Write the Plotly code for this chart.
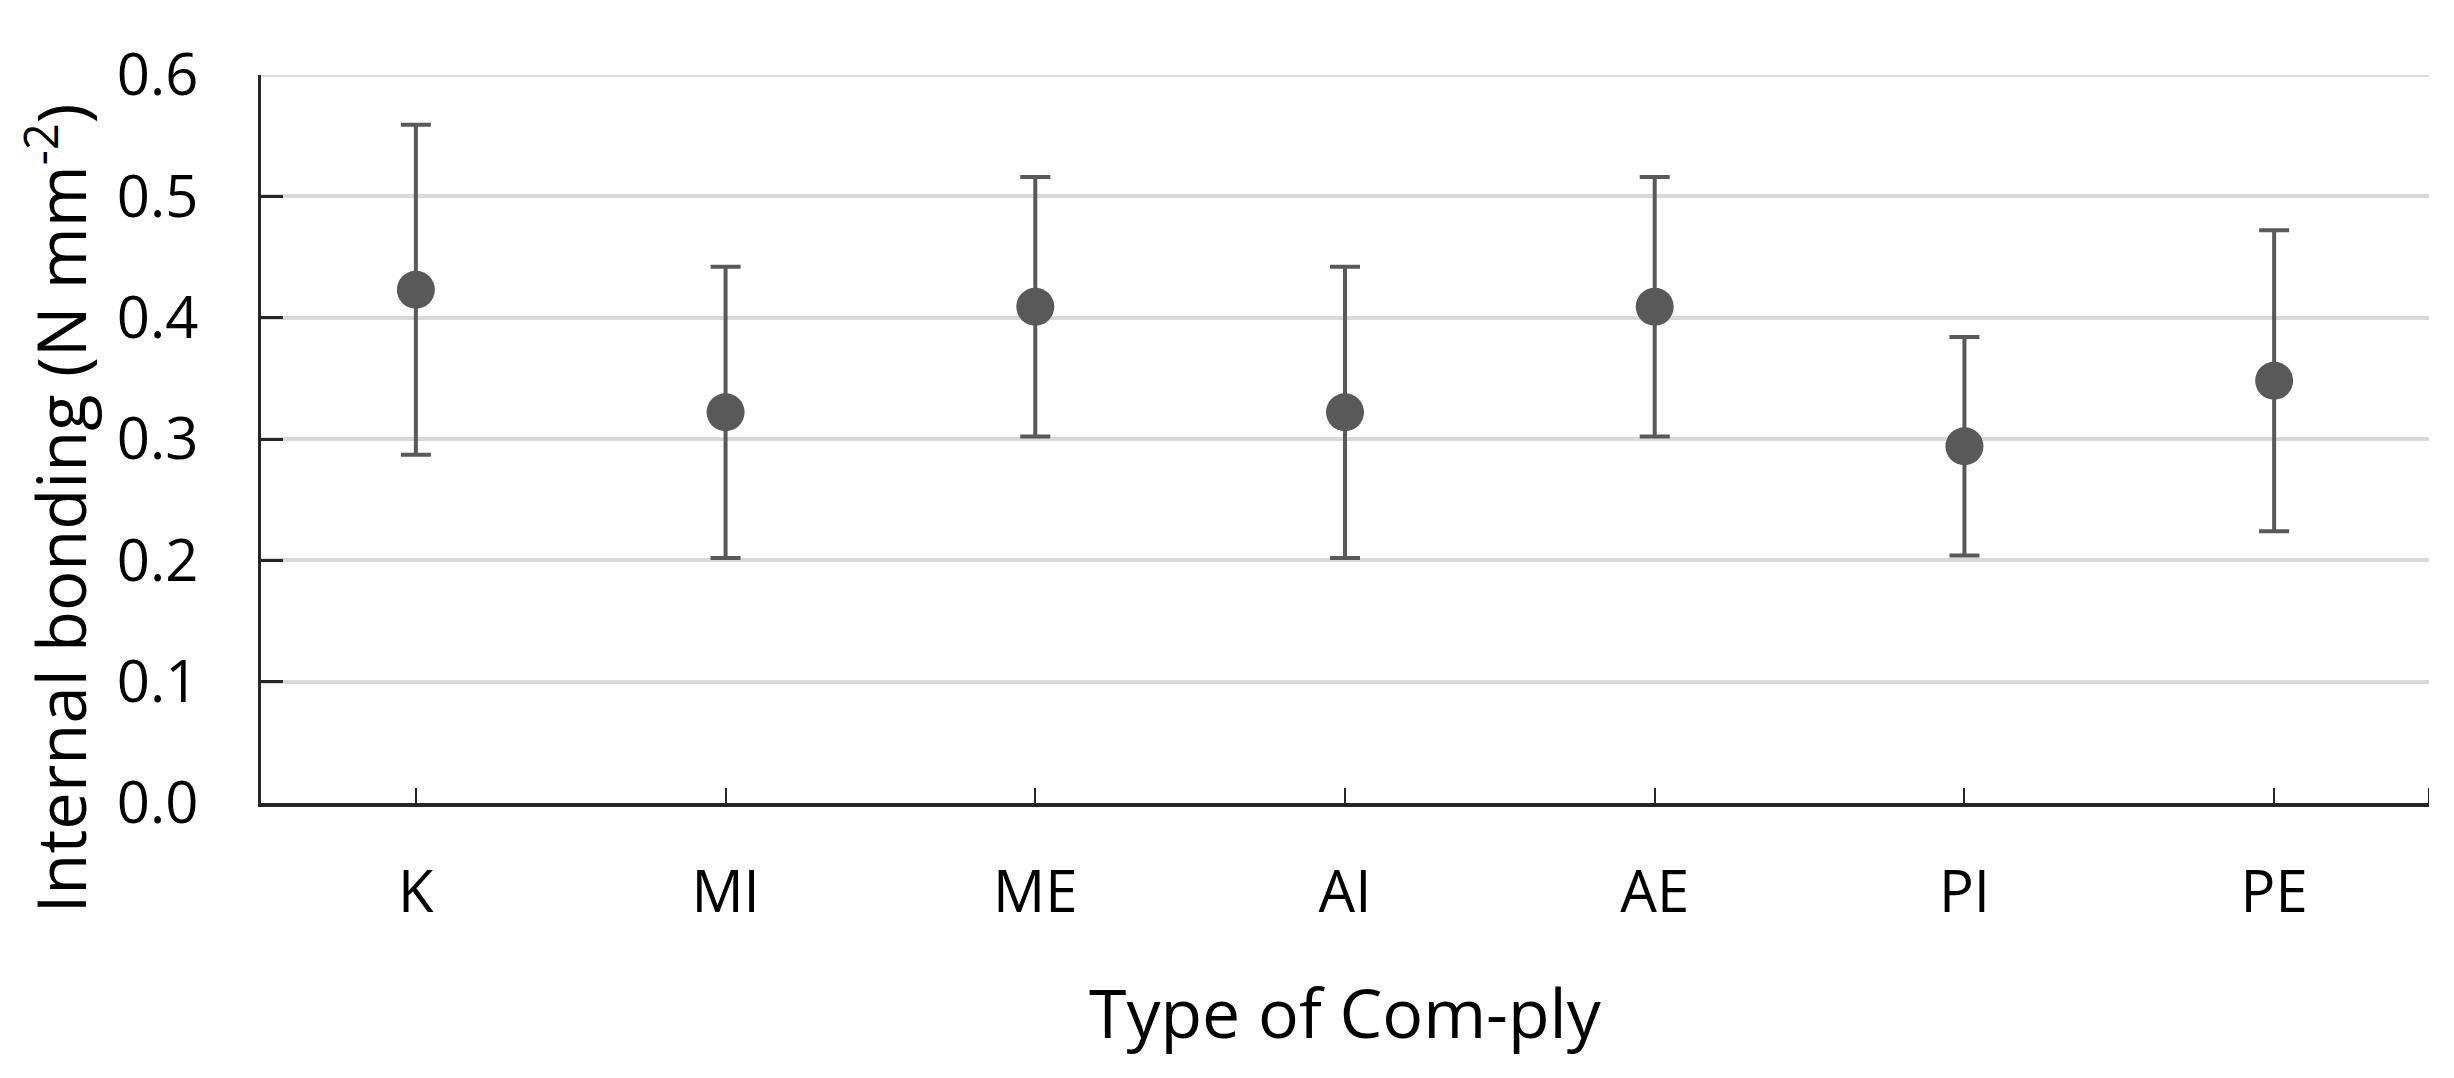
import plotly.graph_objects as go

# Internal bonding by com-ply type (mean +/- sd)
categories = ["K", "MI", "ME", "AI", "AE", "PI", "PE"]
mean_ib = [0.423, 0.322, 0.409, 0.322, 0.409, 0.294, 0.348]
sd_ib = [0.136, 0.120, 0.107, 0.120, 0.107, 0.090, 0.124]
y_ticks = [0.0, 0.1, 0.2, 0.3, 0.4, 0.5, 0.6]

GREY = "#595959"
DARK = "#262626"
GRID = "#d9d9d9"
FONT = "Open Sans"

fig = go.Figure(
    go.Scatter(
        x=list(range(len(categories))),
        y=mean_ib,
        mode="markers",
        marker=dict(color=GREY, size=38),
        error_y=dict(type="data", array=sd_ib, color=GREY, thickness=4, width=15),
        showlegend=False,
    )
)

fig.update_xaxes(
    range=[-0.5, len(categories) - 0.5],
    tickmode="array",
    tickvals=list(range(len(categories))),
    ticktext=categories,
    ticks="inside",
    ticklen=15,
    tickwidth=2,
    tickcolor=DARK,
    showline=True,
    linecolor=DARK,
    linewidth=4,
    showgrid=False,
    zeroline=False,
    ticklabelstandoff=35,
    tickfont=dict(family=FONT, size=58, color="black"),
)

fig.update_yaxes(
    range=[0, 0.6],
    tickmode="array",
    tickvals=y_ticks,
    ticktext=[f"{v:.1f}" for v in y_ticks],
    ticks="inside",
    ticklen=22,
    tickwidth=3,
    tickcolor=DARK,
    showline=True,
    linecolor=DARK,
    linewidth=3,
    showgrid=True,
    gridcolor=GRID,
    gridwidth=4,
    zeroline=False,
    ticklabelstandoff=48,
    tickfont=dict(family=FONT, size=58, color="black"),
)

# top gridline (plotly skips the one on the range edge)
fig.add_shape(type="line", xref="paper", yref="y", x0=0, x1=1, y0=0.6, y1=0.6,
              line=dict(color=GRID, width=4), layer="below")
# end tick at right edge of the category axis
fig.add_shape(type="line", xref="x", yref="y", x0=6.5, x1=6.5, y0=0, y1=0.0125,
              line=dict(color=DARK, width=2))

fig.add_annotation(text="Internal bonding (N mm<sup>-2</sup>)", xref="paper", yref="paper",
                   x=-0.094, y=0.405, textangle=-90, showarrow=False,
                   xanchor="center", yanchor="middle",
                   font=dict(family=FONT, size=67, color="black"))
fig.add_annotation(text="Type of Com-ply", xref="paper", yref="paper",
                   x=0.5, y=-0.286, showarrow=False,
                   xanchor="center", yanchor="middle",
                   font=dict(family=FONT, size=68, color="black"))

# page body has an 8px margin, so shrink the figure to keep the plot area in place
fig.update_layout(
    width=2438,
    height=1062,
    margin=dict(l=253, r=17, t=67, b=267),
    plot_bgcolor="white",
    paper_bgcolor="white",
    font=dict(family=FONT),
)

fig.write_html("out.html")
